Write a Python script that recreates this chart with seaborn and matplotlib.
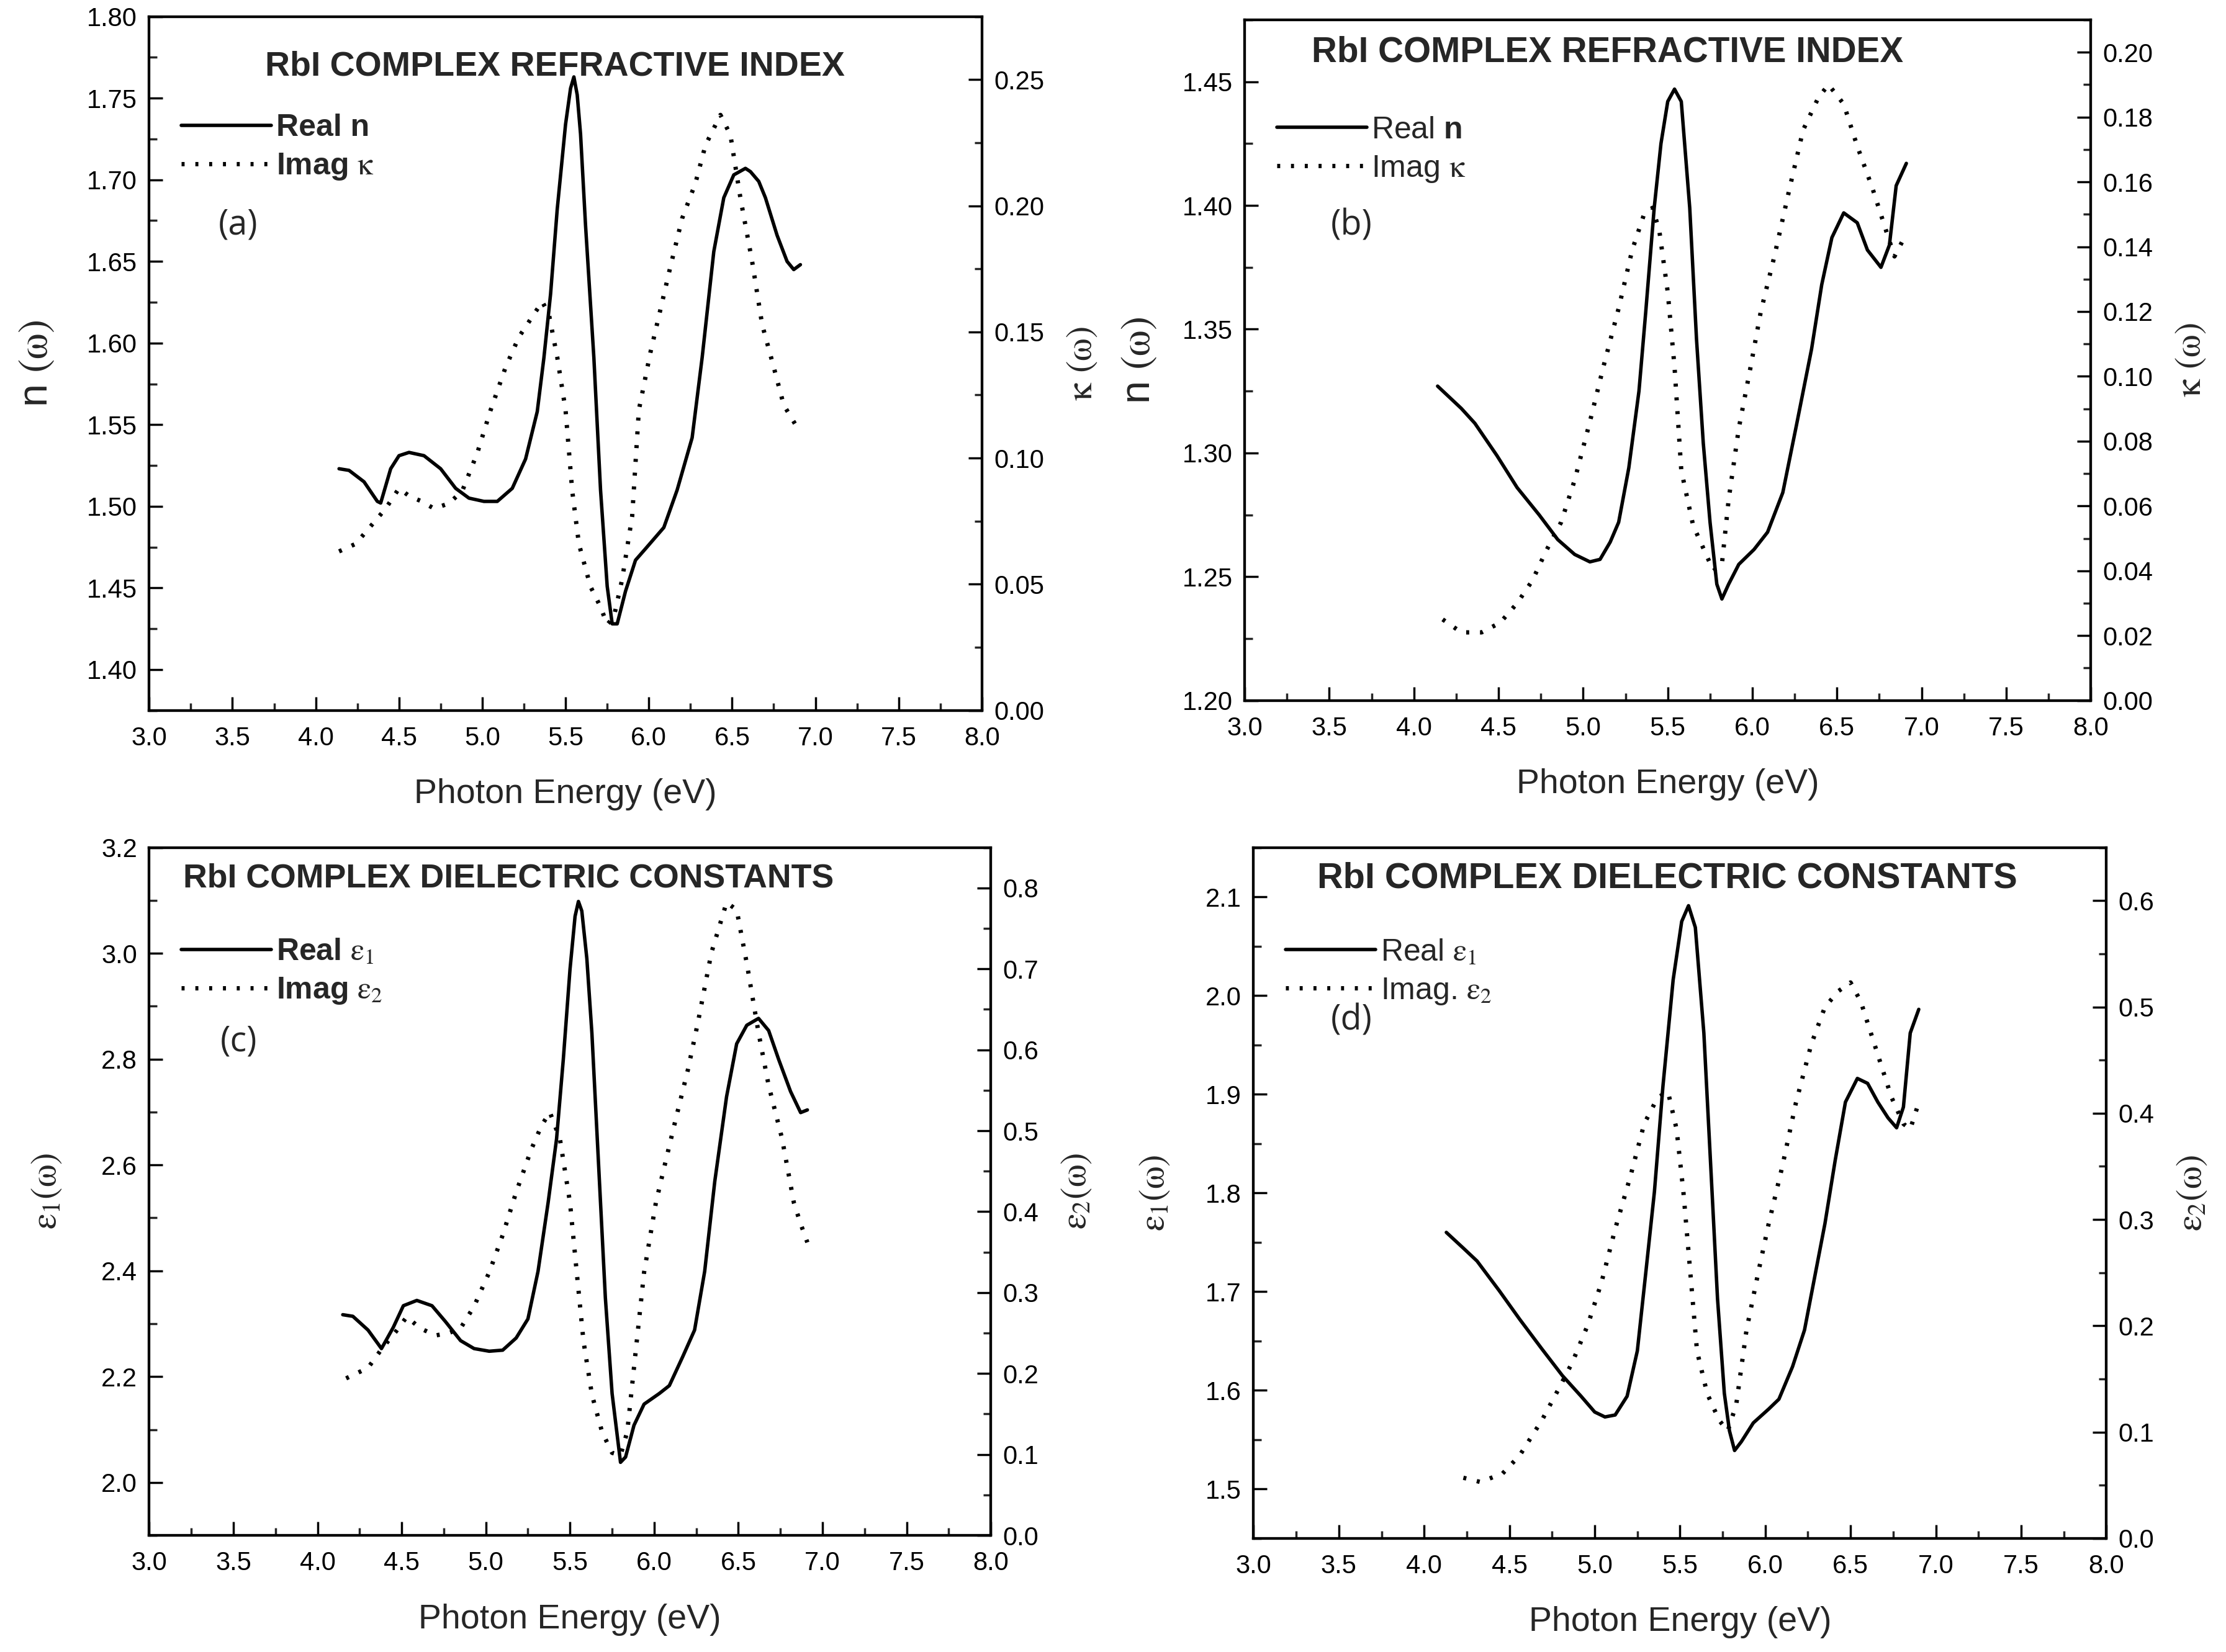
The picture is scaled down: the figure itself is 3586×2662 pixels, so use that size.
import numpy as np
import matplotlib.pyplot as plt
import seaborn as sns
from matplotlib.ticker import MultipleLocator, AutoMinorLocator
from matplotlib.lines import Line2D

# ---- panel (a): RbI refractive index ----
a_n_E = [4.14, 4.20, 4.29, 4.37, 4.39, 4.45, 4.50, 4.56, 4.65, 4.75, 4.84, 4.92, 5.01, 5.09, 5.18,
         5.26, 5.33, 5.37, 5.41, 5.45, 5.50, 5.53, 5.55, 5.57, 5.59, 5.62, 5.67, 5.71, 5.75, 5.78,
         5.81, 5.86, 5.92, 5.98, 6.09, 6.17, 6.26, 6.32, 6.39, 6.45, 6.51, 6.58, 6.61, 6.66, 6.70,
         6.77, 6.83, 6.87, 6.91]
a_n = [1.523, 1.522, 1.515, 1.503, 1.502, 1.523, 1.531, 1.533, 1.531, 1.523, 1.511, 1.505, 1.503,
       1.503, 1.511, 1.529, 1.558, 1.591, 1.630, 1.682, 1.734, 1.756, 1.763, 1.752, 1.728, 1.672,
       1.591, 1.510, 1.451, 1.428, 1.428, 1.448, 1.467, 1.474, 1.487, 1.510, 1.542, 1.591, 1.656,
       1.689, 1.703, 1.707, 1.705, 1.699, 1.689, 1.666, 1.650, 1.645, 1.648]
a_k_E = [4.14, 4.24, 4.33, 4.42, 4.50, 4.56, 4.63, 4.71, 4.80, 4.88, 4.97, 5.05, 5.14, 5.22, 5.31,
         5.36, 5.40, 5.45, 5.50, 5.54, 5.58, 5.65, 5.71, 5.75, 5.79, 5.84, 5.90, 5.94, 6.01, 6.07,
         6.13, 6.20, 6.28, 6.34, 6.43, 6.49, 6.55, 6.62, 6.68, 6.75, 6.81, 6.91]
a_k = [0.063, 0.066, 0.073, 0.080, 0.088, 0.085, 0.083, 0.080, 0.082, 0.087, 0.102, 0.119, 0.136,
       0.148, 0.157, 0.162, 0.157, 0.140, 0.119, 0.087, 0.066, 0.049, 0.041, 0.034, 0.037, 0.052,
       0.077, 0.119, 0.142, 0.159, 0.176, 0.195, 0.209, 0.224, 0.236, 0.228, 0.203, 0.178, 0.153,
       0.136, 0.121, 0.110]

# ---- panel (b) ----
b_n_E = [4.14, 4.28, 4.36, 4.49, 4.61, 4.74, 4.85, 4.95, 5.04, 5.10, 5.16, 5.21, 5.27, 5.33, 5.37,
         5.42, 5.46, 5.50, 5.54, 5.58, 5.63, 5.67, 5.71, 5.75, 5.79, 5.82, 5.86, 5.92, 6.01, 6.09,
         6.18, 6.26, 6.35, 6.41, 6.47, 6.54, 6.62, 6.68, 6.76, 6.81, 6.85, 6.91]
b_n = [1.327, 1.318, 1.312, 1.299, 1.286, 1.275, 1.265, 1.259, 1.256, 1.257, 1.264, 1.272, 1.294,
       1.325, 1.357, 1.399, 1.425, 1.442, 1.447, 1.442, 1.399, 1.346, 1.304, 1.272, 1.247, 1.241,
       1.247, 1.255, 1.261, 1.268, 1.284, 1.311, 1.342, 1.368, 1.387, 1.397, 1.393, 1.382, 1.375,
       1.384, 1.408, 1.417]
b_k_E = [4.17, 4.28, 4.40, 4.51, 4.61, 4.70, 4.78, 4.87, 4.95, 5.04, 5.12, 5.21, 5.29, 5.36, 5.41,
         5.45, 5.50, 5.54, 5.58, 5.65, 5.71, 5.77, 5.82, 5.86, 5.92, 5.99, 6.05, 6.13, 6.22, 6.30,
         6.39, 6.45, 6.54, 6.62, 6.71, 6.79, 6.84, 6.89, 6.91]
b_k = [0.025, 0.021, 0.021, 0.024, 0.030, 0.037, 0.046, 0.055, 0.068, 0.086, 0.103, 0.121, 0.139,
       0.150, 0.152, 0.145, 0.126, 0.103, 0.071, 0.054, 0.047, 0.040, 0.042, 0.062, 0.084, 0.103,
       0.120, 0.137, 0.158, 0.176, 0.186, 0.190, 0.184, 0.171, 0.158, 0.145, 0.137, 0.142, 0.144]

# ---- panel (c): dielectric constants ----
c_e1_E = [4.15, 4.21, 4.30, 4.38, 4.45, 4.51, 4.59, 4.68, 4.76, 4.85, 4.93, 5.02, 5.10, 5.18, 5.25,
          5.31, 5.37, 5.42, 5.46, 5.50, 5.53, 5.55, 5.57, 5.60, 5.63, 5.67, 5.71, 5.75, 5.80, 5.83,
          5.88, 5.94, 6.03, 6.09, 6.17, 6.24, 6.30, 6.36, 6.43, 6.49, 6.55, 6.62, 6.68, 6.74, 6.81,
          6.87, 6.91]
c_e1 = [2.317, 2.314, 2.288, 2.253, 2.293, 2.334, 2.344, 2.334, 2.304, 2.268, 2.253, 2.248, 2.250,
        2.273, 2.309, 2.399, 2.529, 2.649, 2.799, 2.970, 3.070, 3.098, 3.080, 2.990, 2.849, 2.599,
        2.349, 2.168, 2.038, 2.048, 2.108, 2.148, 2.168, 2.183, 2.238, 2.288, 2.399, 2.569, 2.729,
        2.829, 2.864, 2.877, 2.854, 2.799, 2.739, 2.699, 2.704]
c_e2_E = [4.17, 4.30, 4.38, 4.47, 4.53, 4.61, 4.70, 4.78, 4.85, 4.93, 5.02, 5.10, 5.18, 5.27, 5.33,
          5.38, 5.44, 5.50, 5.54, 5.58, 5.63, 5.69, 5.75, 5.80, 5.84, 5.89, 5.94, 6.01, 6.07, 6.13,
          6.20, 6.26, 6.34, 6.43, 6.49, 6.55, 6.62, 6.68, 6.76, 6.83, 6.87, 6.91]
c_e2 = [0.194, 0.207, 0.230, 0.253, 0.270, 0.256, 0.247, 0.250, 0.256, 0.283, 0.325, 0.371, 0.424,
        0.477, 0.506, 0.523, 0.490, 0.411, 0.325, 0.240, 0.174, 0.128, 0.102, 0.099, 0.128, 0.227,
        0.325, 0.411, 0.464, 0.516, 0.575, 0.634, 0.720, 0.782, 0.773, 0.707, 0.621, 0.556, 0.490,
        0.411, 0.385, 0.362]

# ---- panel (d) ----
d_e1_E = [4.13, 4.23, 4.31, 4.44, 4.56, 4.69, 4.81, 4.92, 5.00, 5.06, 5.12, 5.19, 5.25, 5.30, 5.35,
          5.40, 5.46, 5.51, 5.55, 5.59, 5.64, 5.68, 5.72, 5.76, 5.79, 5.82, 5.86, 5.93, 6.02, 6.08,
          6.16, 6.23, 6.29, 6.35, 6.41, 6.47, 6.54, 6.60, 6.66, 6.72, 6.77, 6.81, 6.85, 6.90]
d_e1 = [1.760, 1.744, 1.731, 1.701, 1.672, 1.642, 1.615, 1.594, 1.578, 1.573, 1.575, 1.594, 1.640,
        1.720, 1.801, 1.908, 2.016, 2.075, 2.091, 2.069, 1.962, 1.828, 1.693, 1.597, 1.559, 1.539,
        1.548, 1.567, 1.581, 1.591, 1.624, 1.661, 1.715, 1.769, 1.833, 1.892, 1.916, 1.911, 1.892,
        1.876, 1.866, 1.887, 1.962, 1.986]
d_e2_E = [4.23, 4.33, 4.46, 4.56, 4.69, 4.79, 4.87, 4.96, 5.04, 5.12, 5.21, 5.29, 5.37, 5.43, 5.48,
          5.52, 5.56, 5.60, 5.66, 5.73, 5.78, 5.83, 5.89, 5.96, 6.02, 6.10, 6.18, 6.27, 6.35, 6.43,
          6.50, 6.56, 6.62, 6.68, 6.74, 6.81, 6.85, 6.90]
d_e2 = [0.057, 0.053, 0.061, 0.078, 0.111, 0.141, 0.166, 0.201, 0.241, 0.291, 0.341, 0.390, 0.415,
        0.420, 0.385, 0.326, 0.251, 0.176, 0.136, 0.111, 0.101, 0.126, 0.196, 0.251, 0.296, 0.350,
        0.410, 0.465, 0.500, 0.515, 0.523, 0.505, 0.475, 0.445, 0.415, 0.390, 0.385, 0.410]

sns.set_theme(style='ticks')
plt.rcParams['font.family'] = ['Liberation Sans', 'DejaVu Sans']
plt.rcParams['mathtext.fontset'] = 'custom'
plt.rcParams['mathtext.rm'] = 'STIXGeneral'
plt.rcParams['mathtext.it'] = 'STIXGeneral'
plt.rcParams['mathtext.bf'] = 'Liberation Sans:bold'
plt.rcParams['axes.linewidth'] = 3

fig = plt.figure(figsize=(35.87, 26.62), dpi=100)

TICK = 30
DOTS = (0, (0.7, 2.5))


def style_axis(ax):
    ax.tick_params(axis='both', which='major', direction='in', length=16, width=2.5,
                   labelsize=TICK, pad=18, colors='black')
    ax.tick_params(axis='both', which='minor', direction='in', length=9, width=2.5)
    ax.tick_params(axis='y', which='major', pad=14)
    ax.xaxis.set_minor_locator(AutoMinorLocator(2))
    ax.yaxis.set_minor_locator(AutoMinorLocator(2))
    for s in ax.spines.values():
        s.set_linewidth(3)
        s.set_color('black')


def panel(rect, e1, y1, e2, y2, lim1, lim2, step1, step2, fmt1, fmt2,
          lab1, lab2, labsize, labpad, title, title_size, title_xy, leg, leg_y, bold_leg,
          letter, letter_xy):
    ax = fig.add_axes(rect)
    sns.lineplot(x=e1, y=y1, ax=ax, color='black', linewidth=4, sort=False)
    ax.set_xlim(3.0, 8.0)
    ax.set_ylim(*lim1)
    ax.xaxis.set_major_locator(MultipleLocator(0.5))
    ax.yaxis.set_major_locator(MultipleLocator(step1))
    ax.yaxis.set_major_formatter(fmt1)
    ax.xaxis.set_major_formatter('{x:.1f}')
    style_axis(ax)
    ax.tick_params(right=False, top=False, which='both')
    ax.set_xlabel('Photon Energy (eV)', fontsize=40, labelpad=32)
    ax.set_ylabel(lab1, fontsize=labsize[0], labelpad=labpad)

    ax2 = ax.twinx()
    sns.lineplot(x=e2, y=y2, ax=ax2, color='black', linewidth=5, linestyle=DOTS, sort=False)
    ax2.set_ylim(*lim2)
    ax2.yaxis.set_major_locator(MultipleLocator(step2))
    ax2.yaxis.set_major_formatter(fmt2)
    style_axis(ax2)
    ax2.set_ylabel(lab2, fontsize=labsize[1], labelpad=24)

    ax.text(title_xy[0], title_xy[1], title, transform=ax.transAxes, ha='center', va='center',
            fontsize=title_size, fontweight='bold')
    ax.text(letter_xy[0], letter_xy[1], letter, transform=ax.transAxes, ha='center', va='center',
            fontsize=40, family=['Open Sans', 'DejaVu Sans'])

    handles = [Line2D([], [], color='black', linewidth=4),
               Line2D([], [], color='black', linewidth=5, linestyle=DOTS)]
    ax2.legend(handles, leg, loc='upper left', bbox_to_anchor=(0.005, leg_y), frameon=False,
               handlelength=2.9, handletextpad=0.15, labelspacing=0.3,
               prop={'size': 36, 'weight': 'bold' if bold_leg else 'normal'})
    return ax, ax2


panel([0.067, 0.570, 0.374, 0.420], a_n_E, a_n, a_k_E, a_k, (1.375, 1.80), (0.0, 0.275),
      0.05, 0.05, '{x:.2f}', '{x:.2f}', r'n $(\omega)$', r'$\kappa$ $(\omega)$', (48, 42), 36,
      'RbI COMPLEX REFRACTIVE INDEX', 40, (0.487, 0.928),
      ['Real n', r'Imag $\kappa$'], 0.90, True, '(a)', (0.107, 0.699))

panel([0.559, 0.576, 0.380, 0.412], b_n_E, b_n, b_k_E, b_k, (1.20, 1.475), (0.0, 0.21),
      0.05, 0.02, '{x:.2f}', '{x:.2f}', r'n $(\omega)$', r'$\kappa$ $(\omega)$', (48, 42), 28,
      'RbI COMPLEX REFRACTIVE INDEX', 40.8, (0.429, 0.952),
      [r'Real $\mathbf{n}$', r'Imag $\kappa$'], 0.90, False, '(b)', (0.126, 0.697))

panel([0.067, 0.0706, 0.378, 0.4164], c_e1_E, c_e1, c_e2_E, c_e2, (1.9, 3.2), (0.0, 0.85),
      0.2, 0.1, '{x:.1f}', '{x:.1f}', r'$\varepsilon_1(\omega)$', r'$\varepsilon_2(\omega)$',
      (42, 42), 44, 'RbI COMPLEX DIELECTRIC CONSTANTS', 38.6, (0.427, 0.955),
      [r'Real $\varepsilon_1$', r'Imag $\varepsilon_2$'], 0.91, True, '(c)', (0.106, 0.717))

panel([0.563, 0.0688, 0.383, 0.4182], d_e1_E, d_e1, d_e2_E, d_e2, (1.45, 2.15), (0.0, 0.65),
      0.1, 0.1, '{x:.1f}', '{x:.1f}', r'$\varepsilon_1(\omega)$', r'$\varepsilon_2(\omega)$',
      (42, 42), 40, 'RbI COMPLEX DIELECTRIC CONSTANTS', 41.6, (0.485, 0.955),
      [r'Real $\varepsilon_1$', r'Imag. $\varepsilon_2$'], 0.91, False, '(d)', (0.115, 0.749))

fig.savefig('out.png', dpi=100, facecolor='white')
